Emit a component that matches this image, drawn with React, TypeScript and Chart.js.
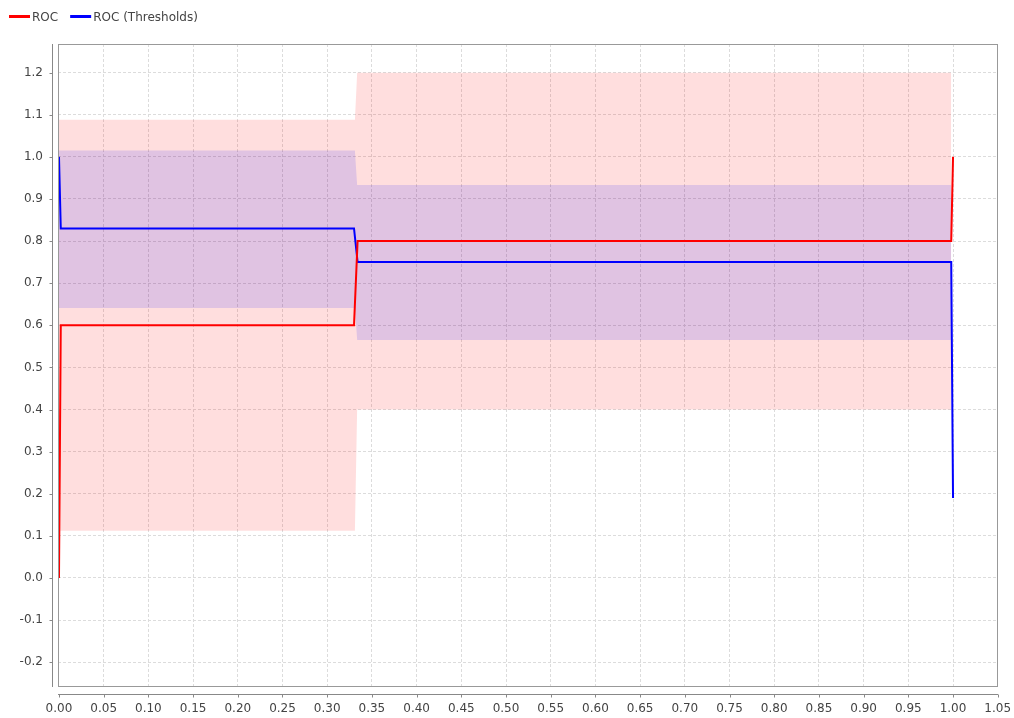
import React, { useEffect, useRef } from 'react';
import { Chart, registerables } from 'chart.js';

Chart.register(...registerables);

// ---- data ----
const rocX = [0, 0.002, 0.33, 0.334, 0.998, 1.0];
const rocY = [0, 0.6, 0.6, 0.8, 0.8, 1.0];
const thresholdY = [1.0, 0.83, 0.83, 0.75, 0.75, 0.19];

const bandX = [0, 0.331, 0.3335, 0.998];
const rocLow = [0.112, 0.112, 0.4, 0.4];
const rocHigh = [1.088, 1.088, 1.2, 1.2];
const thrLow = [0.641, 0.641, 0.565, 0.565];
const thrHigh = [1.015, 1.015, 0.933, 0.933];

const xTicks = [0, 0.05, 0.1, 0.15, 0.2, 0.25, 0.3, 0.35, 0.4, 0.45, 0.5, 0.55, 0.6, 0.65, 0.7, 0.75, 0.8, 0.85, 0.9, 0.95, 1.0, 1.05];
const yTicks = [-0.2, -0.1, 0, 0.1, 0.2, 0.3, 0.4, 0.5, 0.6, 0.7, 0.8, 0.9, 1.0, 1.1, 1.2];

const seriesNames = ['ROC', 'ROC (Thresholds)'];
const seriesColors = ['#ff0000', '#0000ff'];

const FONT = '"DejaVu Sans", sans-serif';

const pts = (xs: number[], ys: number[]) => xs.map((x, i) => ({ x, y: ys[i] }));

const decorPlugin = {
  id: 'decor',
  afterDraw(chart: any) {
    const { ctx, chartArea } = chart;
    const { left, right, top, bottom } = chartArea;
    const xs = chart.scales.x;
    const ys = chart.scales.y;
    ctx.save();
    // frame
    ctx.strokeStyle = '#999999';
    ctx.lineWidth = 1;
    ctx.strokeRect(left + 0.5, top + 0.5, right - left - 1, bottom - top - 1);
    // y axis line offset
    ctx.strokeStyle = '#888888';
    const ax = left - 6 + 0.5;
    ctx.beginPath();
    ctx.moveTo(ax, top);
    ctx.lineTo(ax, bottom);
    yTicks.forEach((v) => {
      const py = Math.round(ys.getPixelForValue(v)) + 0.5;
      ctx.moveTo(ax - 3, py);
      ctx.lineTo(ax, py);
    });
    ctx.stroke();
    // x axis line offset
    const ay = bottom + 7 + 0.5;
    ctx.beginPath();
    ctx.moveTo(left, ay);
    ctx.lineTo(right, ay);
    xTicks.forEach((v) => {
      const px = Math.round(xs.getPixelForValue(v)) + 0.5;
      ctx.moveTo(px, ay);
      ctx.lineTo(px, ay + 3);
    });
    ctx.stroke();
    // legend
    ctx.font = '12px ' + FONT;
    ctx.textBaseline = 'middle';
    ctx.textAlign = 'left';
    let x = 9;
    const ly = 16.5;
    seriesNames.forEach((name, i) => {
      ctx.strokeStyle = seriesColors[i];
      ctx.lineWidth = 3;
      ctx.beginPath();
      ctx.moveTo(x, ly);
      ctx.lineTo(x + 21, ly);
      ctx.stroke();
      ctx.fillStyle = '#444444';
      ctx.fillText(name, x + 23, ly + 1);
      x += 23 + ctx.measureText(name).width + 12;
    });
    ctx.restore();
  },
};

export default function App() {
  const ref = useRef<HTMLCanvasElement>(null);
  useEffect(() => {
    if (!ref.current) return;
    const chart = new Chart(ref.current, {
      type: 'line',
      data: {
        datasets: [
          {
            label: seriesNames[0],
            data: pts(rocX, rocY),
            borderColor: seriesColors[0],
            borderWidth: 2,
            pointRadius: 0,
            fill: false,
            order: 0,
          },
          {
            label: seriesNames[1],
            data: pts(rocX, thresholdY),
            borderColor: seriesColors[1],
            borderWidth: 2,
            pointRadius: 0,
            fill: false,
            order: 1,
          },
          {
            label: 'thrHigh',
            data: pts(bandX, thrHigh),
            borderWidth: 0,
            borderColor: 'rgba(0,0,0,0)',
            backgroundColor: 'rgba(0,0,255,0.12)',
            pointRadius: 0,
            fill: '+1',
            order: 2,
          },
          {
            label: 'thrLow',
            data: pts(bandX, thrLow),
            borderWidth: 0,
            borderColor: 'rgba(0,0,0,0)',
            pointRadius: 0,
            fill: false,
            order: 2,
          },
          {
            label: 'rocHigh',
            data: pts(bandX, rocHigh),
            borderWidth: 0,
            borderColor: 'rgba(0,0,0,0)',
            backgroundColor: 'rgba(255,0,0,0.13)',
            pointRadius: 0,
            fill: '+1',
            order: 3,
          },
          {
            label: 'rocLow',
            data: pts(bandX, rocLow),
            borderWidth: 0,
            borderColor: 'rgba(0,0,0,0)',
            pointRadius: 0,
            fill: false,
            order: 3,
          },
        ],
      },
      options: {
        responsive: false,
        animation: false,
        events: [],
        layout: { padding: { top: 44, right: 16, left: 0, bottom: 0 } },
        plugins: {
          legend: { display: false },
          tooltip: { enabled: false },
        },
        scales: {
          x: {
            type: 'linear',
            min: -0.0011,
            max: 1.0503,
            afterBuildTicks: (scale: any) => {
              scale.ticks = xTicks.map((v) => ({ value: v }));
            },
            afterFit: (scale: any) => {
              scale.height = 31;
              scale.paddingLeft = 0;
              scale.paddingRight = 0;
            },
            ticks: {
              autoSkip: false,
              maxRotation: 0,
              padding: 15,
              color: '#444444',
              font: { family: FONT, size: 12 },
              callback: (v: any) => Number(v).toFixed(2),
            },
            grid: { color: '#dcdcdc', drawTicks: false, lineWidth: 1 },
            border: { display: false, dash: [3, 2] },
          },
          y: {
            type: 'linear',
            min: -0.259,
            max: 1.268,
            afterBuildTicks: (scale: any) => {
              scale.ticks = yTicks.map((v) => ({ value: v }));
            },
            afterFit: (scale: any) => {
              scale.width = 58;
              scale.paddingTop = 0;
              scale.paddingBottom = 0;
            },
            ticks: {
              autoSkip: false,
              padding: 15,
              color: '#444444',
              font: { family: FONT, size: 12 },
              callback: (v: any) => Number(v).toFixed(1),
            },
            grid: { color: '#dcdcdc', drawTicks: false, lineWidth: 1 },
            border: { display: false, dash: [3, 2] },
          },
        },
      },
      plugins: [decorPlugin],
    });
    return () => chart.destroy();
  }, []);
  return (
    <div style={{ position: 'absolute', left: 0, top: 0, width: 1014, height: 718, background: '#ffffff' }}>
      <canvas ref={ref} width={1014} height={718} />
    </div>
  );
}
